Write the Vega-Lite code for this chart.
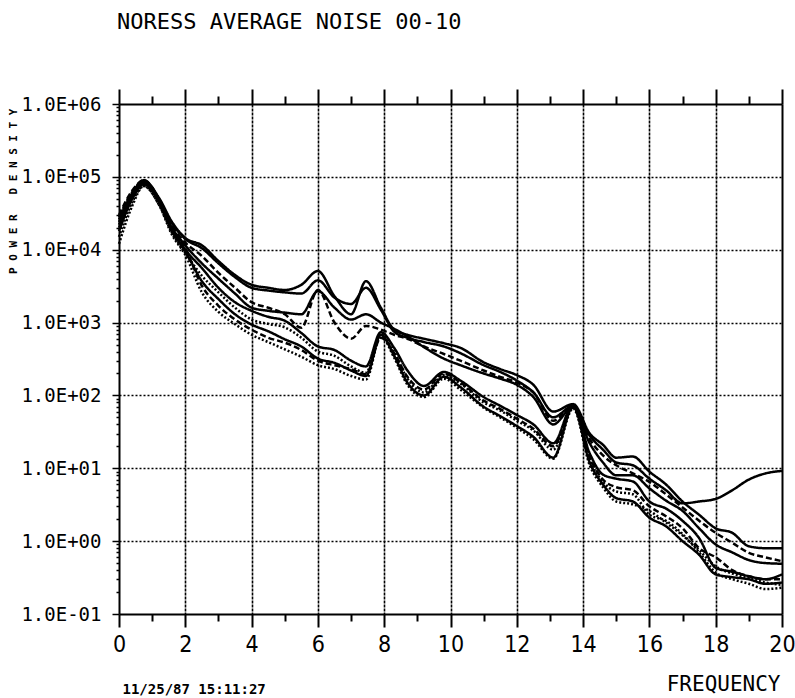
{
  "$schema": "https://vega.github.io/schema/vega-lite/v6.json",
  "width": 663,
  "height": 510,
  "autosize": {"type": "none"},
  "padding": {"left": 119, "top": 104, "right": 13, "bottom": 84},
  "background": "white",
  "config": {
    "view": {"stroke": null},
    "axis": {"domainColor": "black", "tickColor": "black", "labelColor": "black", "titleColor": "black"}
  },
  "title": {
    "text": "NORESS AVERAGE NOISE 00-10",
    "anchor": "start",
    "frame": "group",
    "font": "DejaVu Sans Mono",
    "fontSize": 22,
    "fontWeight": "normal",
    "color": "black",
    "baseline": "alphabetic",
    "offset": 37,
    "dx": -2
  },
  "data": {
    "values": [
      {"f": 0, "A": 26000, "B": 22000, "C": 30000, "D": 18000, "E": 24000, "F": 15000, "G": 20000, "H": 28000, "I": 12000},
      {"f": 0.4, "A": 60000, "B": 55000, "C": 65000, "D": 50000, "E": 58000, "F": 45000, "G": 55000, "H": 62000, "I": 40000},
      {"f": 0.75, "A": 90000, "B": 85000, "C": 90000, "D": 80000, "E": 88000, "F": 75000, "G": 85000, "H": 88000, "I": 75000},
      {"f": 1.2, "A": 52000, "B": 50000, "C": 50000, "D": 46000, "E": 48000, "F": 42000, "G": 45000, "H": 50000, "I": 42000},
      {"f": 1.6, "A": 24000, "B": 23000, "C": 21000, "D": 20000, "E": 19000, "F": 17000, "G": 18000, "H": 20000, "I": 16000},
      {"f": 2, "A": 14500, "B": 14000, "C": 12500, "D": 11500, "E": 10000, "F": 9000, "G": 9500, "H": 10500, "I": 8500},
      {"f": 2.5, "A": 11500, "B": 10500, "C": 8200, "D": 6500, "E": 5600, "F": 4400, "G": 3700, "H": 3200, "I": 2600},
      {"f": 3, "A": 7000, "B": 6500, "C": 4800, "D": 4000, "E": 3000, "F": 2600, "G": 2100, "H": 1700, "I": 1400},
      {"f": 3.5, "A": 4500, "B": 4200, "C": 3000, "D": 2500, "E": 1900, "F": 1600, "G": 1300, "H": 1100, "I": 950},
      {"f": 4, "A": 3300, "B": 3000, "C": 1900, "D": 1600, "E": 1450, "F": 1100, "G": 940, "H": 800, "I": 680},
      {"f": 4.5, "A": 3000, "B": 2750, "C": 1600, "D": 1450, "E": 1200, "F": 960, "G": 760, "H": 620, "I": 540},
      {"f": 5, "A": 2800, "B": 2600, "C": 1300, "D": 1370, "E": 1060, "F": 860, "G": 590, "H": 530, "I": 430},
      {"f": 5.5, "A": 3300, "B": 2500, "C": 850, "D": 1300, "E": 720, "F": 620, "G": 470, "H": 420, "I": 340},
      {"f": 6, "A": 5100, "B": 3800, "C": 2800, "D": 2700, "E": 470, "F": 400, "G": 320, "H": 300, "I": 260},
      {"f": 6.5, "A": 2300, "B": 2200, "C": 1000, "D": 1600, "E": 420, "F": 350, "G": 280, "H": 260, "I": 230},
      {"f": 7, "A": 1300, "B": 1800, "C": 600, "D": 1100, "E": 300, "F": 250, "G": 220, "H": 230, "I": 185},
      {"f": 7.45, "A": 3700, "B": 3000, "C": 900, "D": 1300, "E": 250, "F": 205, "G": 185, "H": 195, "I": 165},
      {"f": 7.9, "A": 1600, "B": 1500, "C": 800, "D": 1000, "E": 740, "F": 700, "G": 680, "H": 620, "I": 650},
      {"f": 8.3, "A": 800, "B": 750, "C": 680, "D": 820, "E": 450, "F": 400, "G": 350, "H": 380, "I": 330},
      {"f": 8.7, "A": 680, "B": 620, "C": 600, "D": 650, "E": 220, "F": 170, "G": 150, "H": 180, "I": 140},
      {"f": 9.2, "A": 600, "B": 540, "C": 470, "D": 460, "E": 135, "F": 110, "G": 100, "H": 120, "I": 95},
      {"f": 9.8, "A": 520, "B": 470, "C": 370, "D": 320, "E": 210, "F": 190, "G": 180, "H": 200, "I": 170},
      {"f": 10.3, "A": 450, "B": 380, "C": 300, "D": 260, "E": 160, "F": 145, "G": 130, "H": 150, "I": 120},
      {"f": 11, "A": 285, "B": 260, "C": 220, "D": 200, "E": 95, "F": 80, "G": 70, "H": 85, "I": 68},
      {"f": 11.5, "A": 230, "B": 210, "C": 180, "D": 170, "E": 72, "F": 62, "G": 52, "H": 65, "I": 50},
      {"f": 12, "A": 190, "B": 160, "C": 150, "D": 140, "E": 54, "F": 45, "G": 38, "H": 48, "I": 36},
      {"f": 12.5, "A": 140, "B": 110, "C": 110, "D": 95, "E": 40, "F": 33, "G": 27, "H": 35, "I": 25},
      {"f": 13.1, "A": 60, "B": 50, "C": 45, "D": 40, "E": 22, "F": 18, "G": 14, "H": 20, "I": 13.5},
      {"f": 13.7, "A": 76, "B": 72, "C": 70, "D": 70, "E": 74, "F": 72, "G": 70, "H": 68, "I": 66},
      {"f": 14.2, "A": 30, "B": 28, "C": 25, "D": 22, "E": 16, "F": 13, "G": 12, "H": 14, "I": 11},
      {"f": 14.6, "A": 21, "B": 18, "C": 15, "D": 12, "E": 8.2, "F": 6.5, "G": 6, "H": 7, "I": 5.5},
      {"f": 15, "A": 14, "B": 12, "C": 11, "D": 8, "E": 7.2, "F": 4.8, "G": 3.9, "H": 5.5, "I": 3.5},
      {"f": 15.5, "A": 14.5, "B": 11, "C": 8.5, "D": 8, "E": 6.6, "F": 4.4, "G": 3.5, "H": 5, "I": 3.2},
      {"f": 16, "A": 9, "B": 7.2, "C": 6.5, "D": 5.3, "E": 3.5, "F": 2.3, "G": 2.1, "H": 3, "I": 2.6},
      {"f": 16.5, "A": 6, "B": 5, "C": 4.4, "D": 3.6, "E": 2.8, "F": 1.9, "G": 1.6, "H": 2.2, "I": 1.8},
      {"f": 17, "A": 3.5, "B": 3.3, "C": 2.9, "D": 2.6, "E": 1.9, "F": 1.25, "G": 1, "H": 1.5, "I": 1.2},
      {"f": 17.5, "A": 2.3, "B": 3.5, "C": 1.9, "D": 1.5, "E": 1.1, "F": 0.7, "G": 0.65, "H": 0.8, "I": 0.75},
      {"f": 18, "A": 1.5, "B": 3.8, "C": 1.3, "D": 0.9, "E": 0.43, "F": 0.37, "G": 0.35, "H": 0.6, "I": 0.45},
      {"f": 18.5, "A": 1.3, "B": 5, "C": 0.95, "D": 0.7, "E": 0.38, "F": 0.3, "G": 0.32, "H": 0.4, "I": 0.36},
      {"f": 19, "A": 0.85, "B": 7, "C": 0.69, "D": 0.55, "E": 0.33, "F": 0.26, "G": 0.3, "H": 0.33, "I": 0.31},
      {"f": 19.5, "A": 0.8, "B": 8.5, "C": 0.6, "D": 0.5, "E": 0.3, "F": 0.22, "G": 0.26, "H": 0.3, "I": 0.27},
      {"f": 20, "A": 0.8, "B": 9.2, "C": 0.53, "D": 0.49, "E": 0.35, "F": 0.23, "G": 0.27, "H": 0.3, "I": 0.25}
    ]
  },
  "transform": [{"fold": ["A", "B", "C", "D", "E", "F", "G", "H", "I"], "as": ["series", "power"]}],
  "layer": [
    {
      "mark": {"type": "line", "interpolate": "monotone", "strokeWidth": 2.5, "color": "black"},
      "encoding": {
        "x": {
          "field": "f", "type": "quantitative",
          "scale": {"domain": [0, 20], "nice": false, "zero": false},
          "axis": {
            "orient": "bottom",
            "values": [0,1,2,3,4,5,6,7,8,9,10,11,12,13,14,15,16,17,18,19,20],
            "labelExpr": "datum.value % 2 === 0 ? datum.label : ''",
            "labelFont": "Liberation Sans Narrow, DejaVu Sans Condensed, DejaVu Sans Mono",
            "labelFontSize": 23,
            "labelPadding": 6,
            "labelFlush": false,
            "labelOverlap": false,
            "domainWidth": 2,
            "tickWidth": 2,
            "tickSize": {"condition": {"test": "datum.value % 2 === 0", "value": 13}, "value": 7},
            "grid": true,
            "gridColor": "black",
            "gridWidth": 1.6,
            "gridDash": [3, 1],
            "gridOpacity": {"condition": {"test": "datum.value % 2 === 0 && datum.value > 0 && datum.value < 20", "value": 1}, "value": 0},
            "title": "FREQUENCY",
            "titleFont": "DejaVu Sans Mono",
            "titleFontSize": 21,
            "titleFontWeight": "normal",
            "titleX": 661,
            "titleY": 70,
            "titleAlign": "right",
            "titleBaseline": "middle"
          }
        },
        "y": {
          "field": "power", "type": "quantitative",
          "scale": {"type": "log", "domain": [0.1, 1000000], "nice": false},
          "axis": {
            "orient": "left",
            "values": [0.1,0.2,0.3,0.4,0.5,0.6,0.7,0.8,0.9,1,2,3,4,5,6,7,8,9,10,20,30,40,50,60,70,80,90,100,200,300,400,500,600,700,800,900,1000,2000,3000,4000,5000,6000,7000,8000,9000,10000,20000,30000,40000,50000,60000,70000,80000,90000,100000,200000,300000,400000,500000,600000,700000,800000,900000,1000000],
            "labelExpr": "abs(log(datum.value)/LN10 - round(log(datum.value)/LN10)) < 0.01 ? '1.0E' + (round(log(datum.value)/LN10) < 0 ? '-' : '+') + '0' + abs(round(log(datum.value)/LN10)) : ''",
            "labelFont": "DejaVu Sans Mono",
            "labelFontSize": 19,
            "labelPadding": 11,
            "labelFlush": false,
            "labelOverlap": false,
            "domainWidth": 2,
            "tickWidth": 1.5,
            "tickSize": {"condition": {"test": "abs(log(datum.value)/LN10 - round(log(datum.value)/LN10)) < 0.01", "value": 7}, "value": 3},
            "grid": true,
            "gridColor": "black",
            "gridWidth": 1.6,
            "gridDash": [2, 2],
            "gridOpacity": {"condition": {"test": "abs(log(datum.value)/LN10 - round(log(datum.value)/LN10)) < 0.01 && datum.value > 0.2 && datum.value < 500000", "value": 1}, "value": 0},
            "title": "P\u00a0O\u00a0W\u00a0E\u00a0R\u00a0\u00a0\u00a0D\u00a0E\u00a0N\u00a0S\u00a0I\u00a0T\u00a0Y",
            "titleFont": "DejaVu Sans Mono",
            "titleFontSize": 11,
            "titleFontWeight": "bold",
            "titleAngle": 270,
            "titleX": -106,
            "titleY": 4,
            "titleAlign": "right",
            "titleBaseline": "middle"
          }
        },
        "detail": {"field": "series", "type": "nominal"},
        "strokeDash": {
          "field": "series", "type": "nominal",
          "scale": {"domain": ["A","B","C","D","E","F","G","H","I"], "range": [[1,0],[1,0],[6,3],[1,0],[1,0],[2,2],[1,0],[6,3],[2,2]]},
          "legend": null
        }
      }
    },
    {
      "mark": {"type": "point", "opacity": 0},
      "encoding": {
        "x": {
          "field": "f", "type": "quantitative",
          "axis": {
            "orient": "top",
            "values": [0,1,2,3,4,5,6,7,8,9,10,11,12,13,14,15,16,17,18,19,20],
            "labels": false,
            "grid": false,
            "domainWidth": 2,
            "tickWidth": 2,
            "tickSize": {"condition": {"test": "datum.value % 2 === 0", "value": 15}, "value": 8},
            "title": "11/25/87 15:11:27",
            "titleFont": "DejaVu Sans Mono",
            "titleFontSize": 14,
            "titleFontWeight": "bold",
            "titleX": 3,
            "titleY": 585,
            "titleAlign": "left",
            "titleBaseline": "middle",
            "titleAngle": 0
          }
        },
        "y": {
          "field": "power", "type": "quantitative",
          "axis": {
            "orient": "right",
            "labels": false,
            "ticks": false,
            "grid": false,
            "domainWidth": 2,
            "title": null
          }
        }
      }
    }
  ],
  "resolve": {"axis": {"x": "independent", "y": "independent"}}
}
